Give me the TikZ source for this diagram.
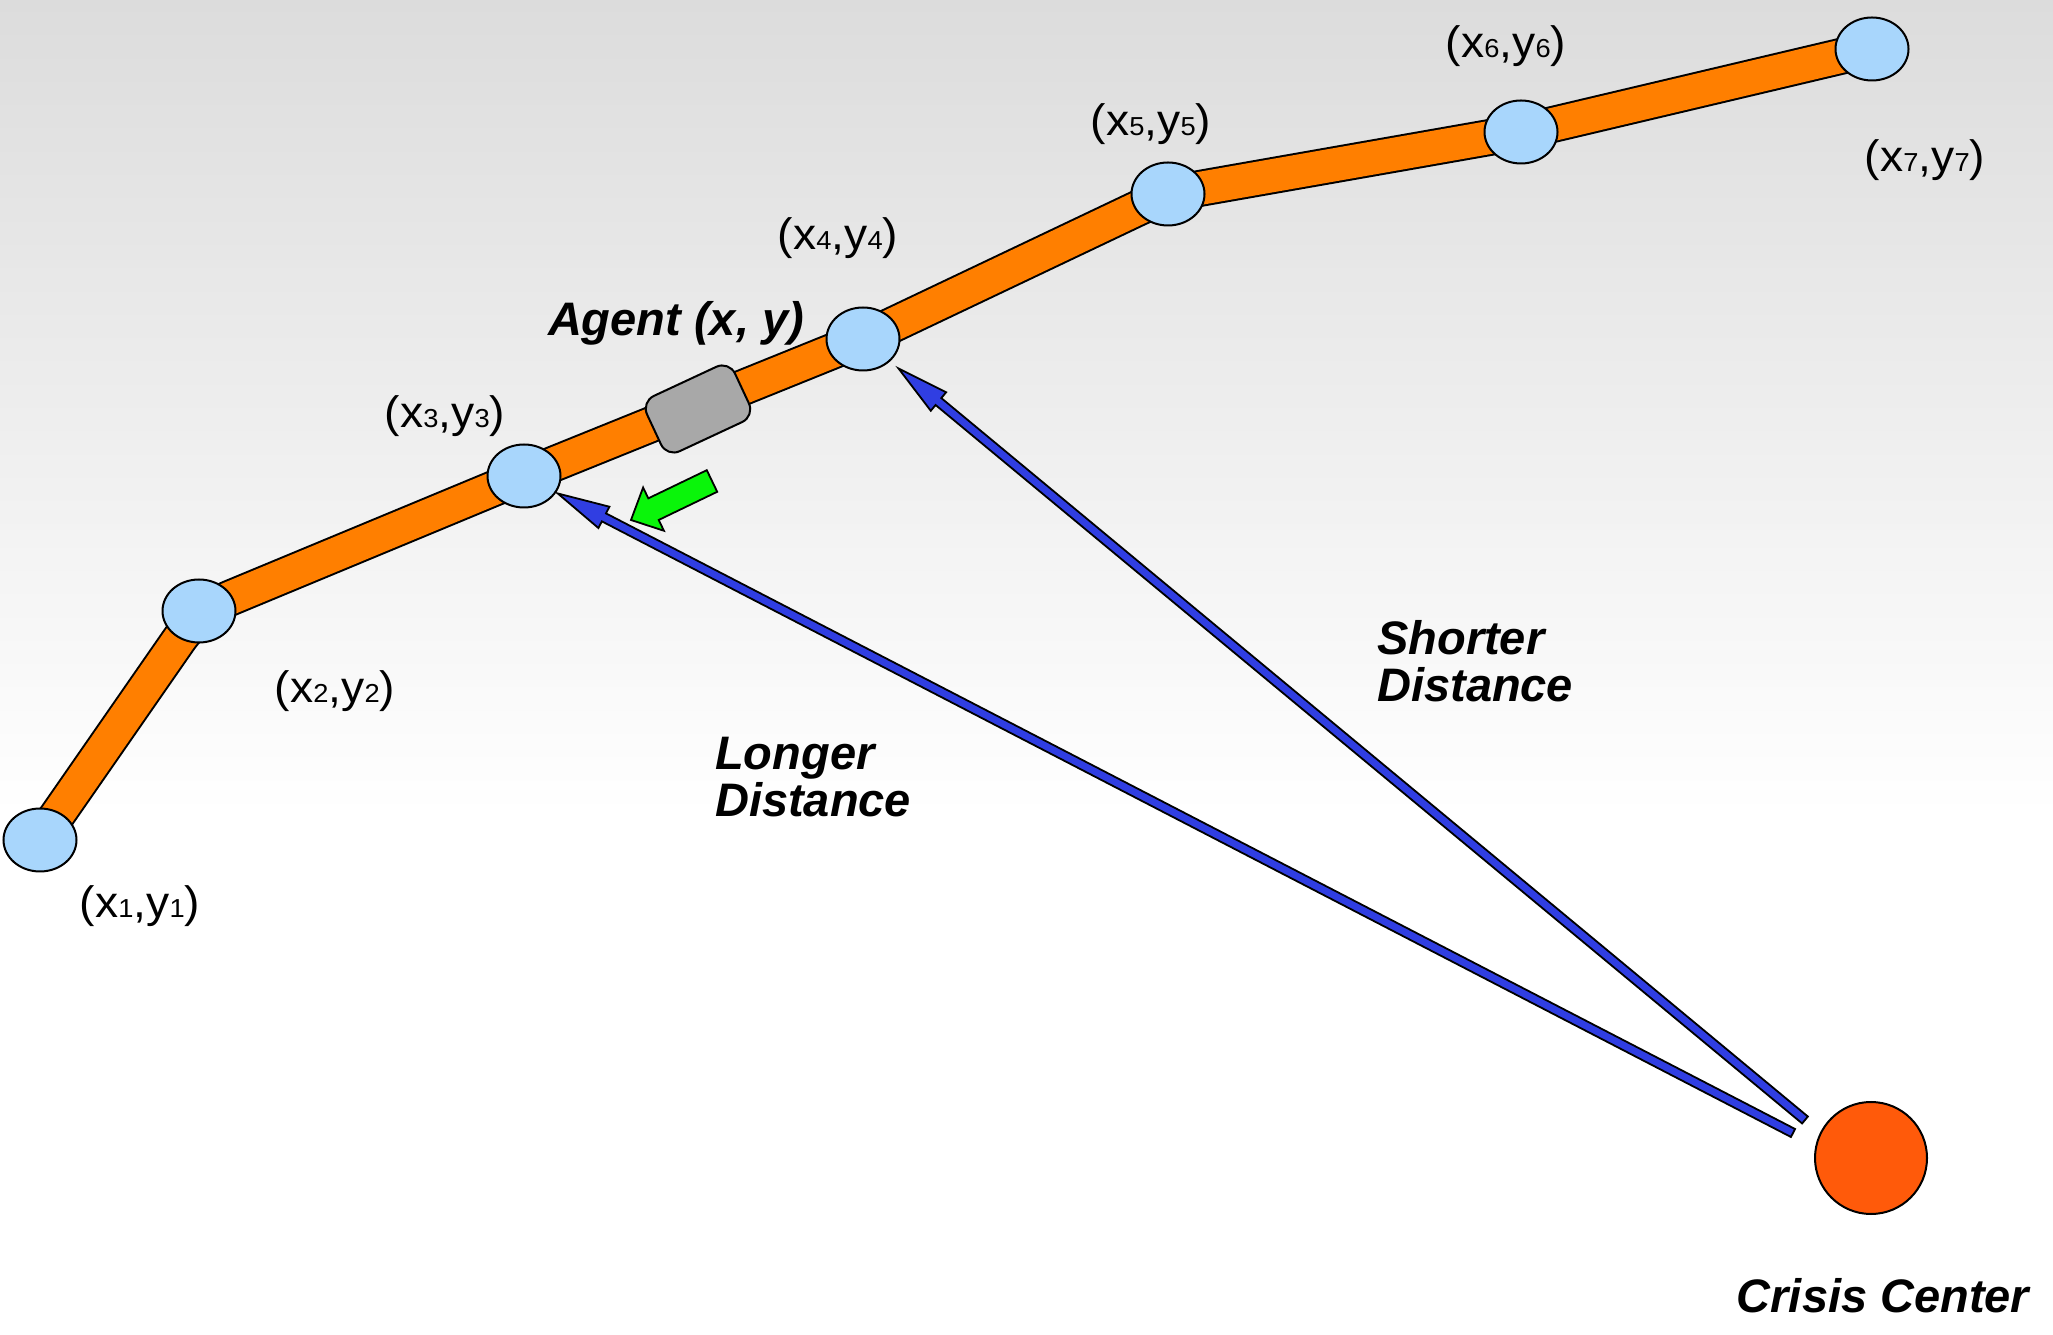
\documentclass[tikz,border=0pt]{standalone}
\usepackage{fontspec}
\setmainfont{Liberation Sans}
\newfontfamily\lblfont[FakeStretch=1.05]{Liberation Sans}
\usetikzlibrary{calc,shapes.geometric}
\definecolor{routeorange}{RGB}{255,127,0}
\definecolor{waypt}{RGB}{168,214,252}
\definecolor{agentgray}{RGB}{168,168,168}
\definecolor{crisisred}{RGB}{255,90,10}
\definecolor{arrowblue}{RGB}{48,62,226}
\definecolor{arrowgreen}{RGB}{10,245,10}
\definecolor{bgtop}{RGB}{220,220,220}
\newcommand\ptlabel[1]{{\lblfont\fontsize{44}{48}\selectfont (x{\fontsize{26}{26}\selectfont #1},y{\fontsize{26}{26}\selectfont #1})}}
% #1 style, #2 tail, #3 tip, #4 shaft half width, #5 head half width, #6 head length
\newcommand\blockarrow[6]{%
  \path (#2) coordinate (ba-t) (#3) coordinate (ba-h);
  \path ($(ba-h)!#6!(ba-t)$) coordinate (ba-b);
  \draw[#1] ($(ba-t)!#4!90:(ba-h)$) -- ($(ba-b)!#4!-90:(ba-t)$) -- ($(ba-b)!#5!-90:(ba-t)$) -- (ba-h)
    -- ($(ba-b)!#5!90:(ba-t)$) -- ($(ba-b)!#4!90:(ba-t)$) -- ($(ba-t)!#4!-90:(ba-h)$) -- cycle;}
\tikzset{
  waypoint/.style={ellipse, draw=black, line width=2pt, fill=waypt, minimum width=73pt, minimum height=63pt, inner sep=0pt},
  agentbox/.style={rectangle, rounded corners=14pt, draw=black, line width=2pt, fill=agentgray, minimum width=97pt, minimum height=61pt, inner sep=0pt},
  crisis/.style={circle, draw=black, line width=2pt, fill=crisisred, minimum size=112pt, inner sep=0pt},
  lbl/.style={inner sep=0pt, anchor=center},
  boldlbl/.style={inner sep=0pt, font=\fontsize{47}{47}\selectfont\bfseries\itshape},
  routeout/.style={line width=37pt, draw=black, rounded corners=34pt, line join=round},
  routein/.style={line width=33pt, draw=routeorange, rounded corners=34pt, line join=round},
  bluearrow/.style={draw=black, line width=1.8pt, fill=arrowblue, line join=miter},
  greenarrow/.style={draw=black, line width=1.8pt, fill=arrowgreen, line join=miter}
}
\begin{document}
\begin{tikzpicture}[x=1pt,y=1pt]
\useasboundingbox (0,0) rectangle (2053,1334);
\fill[white] (0,0) rectangle (2053,520);
\shade[top color=bgtop, bottom color=white] (0,519) rectangle (2053,1334);

% waypoint positions
\coordinate (p1) at (40,494);
\coordinate (p2) at (199,723);
\coordinate (p3) at (524,858);
\coordinate (p4) at (863,995);
\coordinate (p5) at (1168,1140);
\coordinate (p6) at (1521,1202);
\coordinate (p7) at (1872,1285);

% route
\draw[routeout] (p1) -- (p2) -- (p3) -- (p4) -- (p5) -- (p6) -- (p7);
\draw[routein] (p1) -- (p2) -- (p3) -- (p4) -- (p5) -- (p6) -- (p7);

% agent
\node[agentbox, rotate=25] (agent) at (698,925) {};

% waypoints
\node[waypoint] (n1) at (p1) {};
\node[waypoint] (n2) at (p2) {};
\node[waypoint] (n3) at (p3) {};
\node[waypoint] (n4) at (p4) {};
\node[waypoint] (n5) at (p5) {};
\node[waypoint] (n6) at (p6) {};
\node[waypoint] (n7) at (p7) {};

% crisis center
\node[crisis] (cc) at (1871,176) {};
\coordinate (tailA) at ($(cc)+(-78,25)$);
\coordinate (tailB) at ($(cc)+(-66,38)$);
\coordinate (tipA) at ($(n3.center)!38pt!(tailA)$);
\coordinate (tipB) at ($(n4.center)!46pt!(tailB)$);

% blue arrows
\blockarrow{bluearrow}{tailA}{tipA}{4.5pt}{12pt}{52pt}
\blockarrow{bluearrow}{tailB}{tipB}{4.5pt}{12pt}{52pt}

% green motion arrow
\coordinate (gtail) at (712,853);
\coordinate (gtip) at (631,814);
\blockarrow{greenarrow}{gtail}{gtip}{12pt}{24pt}{25pt}

% labels
\node[lbl] (l1) at (140,428) {\ptlabel{1}};
\node[lbl] (l2) at (335,643) {\ptlabel{2}};
\node[lbl] (l3) at (445,918) {\ptlabel{3}};
\node[lbl] (l4) at (838,1096) {\ptlabel{4}};
\node[lbl] (l5) at (1151,1210) {\ptlabel{5}};
\node[lbl] (l6) at (1506,1288) {\ptlabel{6}};
\node[lbl] (l7) at (1925,1174) {\ptlabel{7}};

\node[boldlbl, anchor=center] (agentlbl) at (676,1011) {Agent (x, y)};
\node[boldlbl, anchor=west, align=left] (shorter) at (1377,673) {Shorter\\Distance};
\node[boldlbl, anchor=west, align=left] (longer) at (715,557) {Longer\\Distance};
\node[boldlbl, anchor=center] (cclbl) at (1883,38) {Crisis Center};
\end{tikzpicture}
\end{document}
